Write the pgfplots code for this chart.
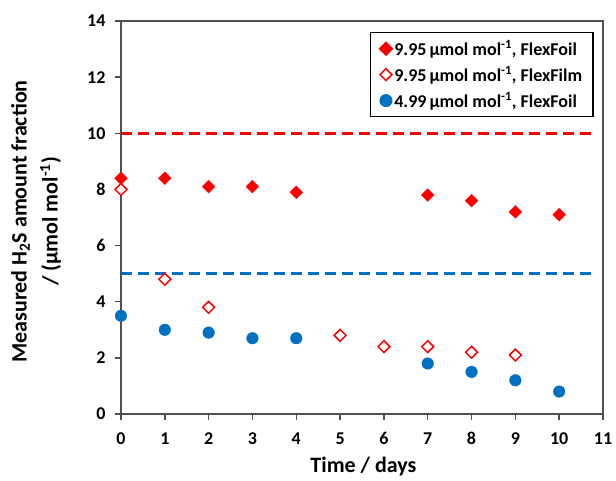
\documentclass[border=0pt]{standalone}
\usepackage{fontspec}
\setmainfont{Carlito}
\usepackage{pgfplots}
\pgfplotsset{compat=1.18}

\definecolor{myred}{RGB}{255,0,0}
\definecolor{myblue}{RGB}{0,112,192}
\definecolor{axisgray}{RGB}{80,80,80}

\begin{document}
\begin{tikzpicture}
\begin{axis}[
  scale only axis,
  width=482pt, height=393pt,
  xmin=0, xmax=11, ymin=0, ymax=14,
  xtick={0,1,...,11}, ytick={0,2,...,14},
  tick align=outside,
  xtick pos=bottom, ytick pos=left,
  major tick length=6pt,
  axis line style={draw=axisgray, line width=1.8pt},
  every tick/.style={draw=axisgray, line width=1.5pt},
  /pgf/number format/assume math mode=true,
  tick label style={font=\fontsize{18}{20}\selectfont\bfseries},
  xticklabel style={yshift=-9pt},
  yticklabel style={xshift=-6pt},
  label style={font=\fontsize{22}{31}\selectfont\bfseries},
  xlabel={Time / days},
  ylabel={Measured H\textsubscript{2}S amount fraction\\/ (µmol mol\textsuperscript{-1})},
  ylabel style={align=center, at={(axis description cs:-0.176,0.49)}, anchor=center},
  xlabel style={at={(axis description cs:0.503,-0.150)}, anchor=base},
  clip=false,
  legend style={at={(0.981,0.972)}, anchor=north east, draw=black, line width=1.4pt,
    font=\fontsize{18}{20}\selectfont\bfseries, row sep=6pt, inner xsep=9pt, inner ysep=6pt},
  legend cell align=left,
]
\addplot[only marks, mark=square*, mark size=4.5pt, color=myred, fill=myred,
  every mark/.append style={rotate=45}] coordinates {
  (0,8.4) (1,8.4) (2,8.1) (3,8.1) (4,7.9) (7,7.8) (8,7.6) (9,7.2) (10,7.1)};
\addlegendentry{9.95\,µmol mol\textsuperscript{-1}, FlexFoil}
\addplot[only marks, mark=square*, mark size=4.2pt, color=myred, fill=white, line width=1.5pt,
  every mark/.append style={rotate=45}] coordinates {
  (0,8.0) (1,4.8) (2,3.8) (5,2.8) (6,2.4) (7,2.4) (8,2.2) (9,2.1)};
\addlegendentry{9.95\,µmol mol\textsuperscript{-1}, FlexFilm}
\addplot[only marks, mark=*, mark size=5.8pt, color=myblue, fill=myblue] coordinates {
  (0,3.5) (1,3.0) (2,2.9) (3,2.7) (4,2.7) (7,1.8) (8,1.5) (9,1.2) (10,0.8)};
\addlegendentry{4.99\,µmol mol\textsuperscript{-1}, FlexFoil}
\addplot[myred, line width=2.6pt, dash pattern=on 11pt off 6pt, forget plot] coordinates {(0,10) (10.86,10)};
\addplot[myblue, line width=2.6pt, dash pattern=on 11pt off 6pt, forget plot] coordinates {(0,5) (10.86,5)};
\end{axis}
\pgfresetboundingbox
\path[use as bounding box] (-121pt,-66pt) rectangle (495pt,414pt);
\end{tikzpicture}
\end{document}
